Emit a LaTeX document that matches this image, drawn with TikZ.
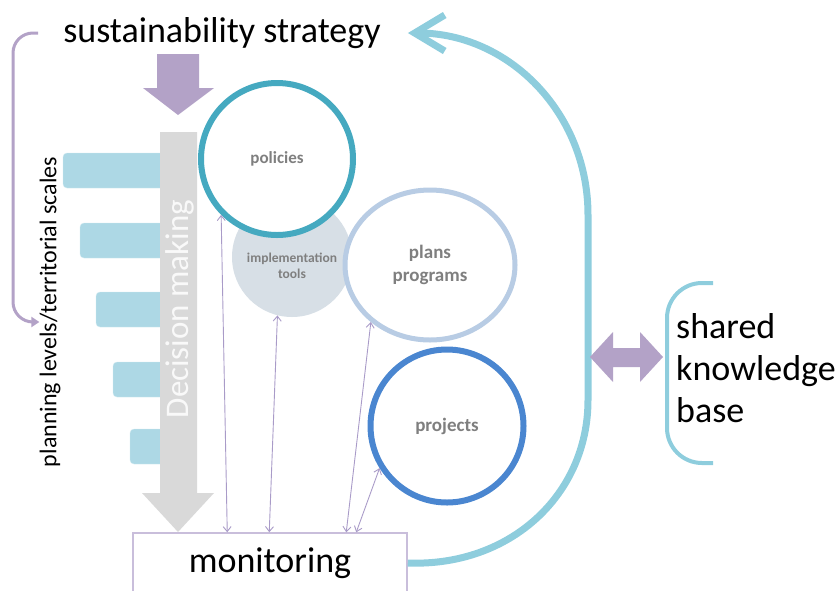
\documentclass[tikz,border=0pt]{standalone}
\usepackage{fontspec}
\setmainfont{Carlito}
\usetikzlibrary{arrows.meta,shapes.geometric}
\definecolor{aqua}{HTML}{45A9C0}
\definecolor{lightaqua}{HTML}{8ECDDD}
\definecolor{baraqua}{HTML}{ADD8E5}
\definecolor{planblue}{HTML}{B8CCE4}
\definecolor{projblue}{HTML}{4A86D0}
\definecolor{toolgray}{HTML}{D7DFE6}
\definecolor{lilac}{HTML}{B3A2C7}
\definecolor{thinlilac}{HTML}{A99BC8}
\definecolor{boxlilac}{HTML}{C9BEDB}
\definecolor{arrowgray}{HTML}{D9D9D9}
\definecolor{labelgray}{HTML}{7F7F7F}
\begin{document}
\begin{tikzpicture}[x=1pt,y=-1pt,
    bigtext/.style={font=\fontsize{36}{42}\selectfont,inner sep=0pt},
    ring/.style={circle,draw,line width=6pt,fill=white,inner sep=0pt},
    intext/.style={text=labelgray,font=\bfseries\fontsize{17}{22}\selectfont,align=center},
    bar/.style={fill=baraqua,draw=baraqua!60!white,rounded corners=4pt},
    link/.style={thinlilac,line width=0.9pt,{Straight Barb[length=5pt,width=8pt]}-{Straight Barb[length=5pt,width=8pt]}}]
    \useasboundingbox (0,0) rectangle (840,590);
    % levels behind the decision arrow
    \foreach \x/\y in {63/153,80/223,96/292,113/362,130/429}
        \draw[bar] (\x,\y) rectangle (175,\y+35);
    \fill[arrowgray] (160,132) -- (197,132) -- (197,493) -- (214,493) -- (178,532) -- (142,493) -- (160,493) -- cycle;
    \node[rotate=90,text=white!95!gray,font=\fontsize{33}{36}\selectfont,inner sep=0pt] (dm) at (180,309) {Decision making};
    \fill[lilac] (157,54) -- (199,54) -- (199,88) -- (214,88) -- (178,115) -- (143,88) -- (157,88) -- cycle;
    \node[bigtext] (strat) at (222,33) {sustainability strategy};
    \node[rotate=90,font=\fontsize{24}{28}\selectfont,inner sep=0pt] (plan) at (50,312) {planning levels/territorial scales};
    \draw[lilac,line width=3pt,rounded corners=20pt,-{Triangle[length=8pt,width=10pt]}]
        ([xshift=-25pt]strat.west) -| (13,322) -- ([yshift=-10pt]plan.north);
    % circles
    \node[circle,fill=toolgray,minimum size=120pt,inner sep=0pt,
        label={[intext,font=\bfseries\fontsize{13.5}{16}\selectfont,yshift=-9pt]center:implementation\\tools}] (tools) at (292,257) {};
    \node[ring,draw=aqua,minimum size=152pt,intext] (pol) at (277,159) {policies};
    \node[ellipse,draw=planblue,line width=5pt,fill=white,inner sep=0pt,minimum width=170pt,minimum height=150pt,
        intext,font=\bfseries\fontsize{19}{23}\selectfont] (plans) at (430,265) {plans\\programs};
    \node[ring,draw=projblue,minimum size=153pt,intext,font=\bfseries\fontsize{19}{23}\selectfont] (proj) at (447,426) {projects};
    \node[bigtext,draw=boxlilac,line width=1.5pt,fill=white,minimum width=274pt,minimum height=60pt] (mon) at (270,563) {monitoring};
    % monitoring links
    \draw[link] ([xshift=95pt]mon.north west) -- (pol.225);
    \draw[link] ([xshift=137pt]mon.north west) -- (tools.256);
    \draw[link] ([xshift=214pt]mon.north west) -- (plans.224);
    \draw[link] ([xshift=224pt]mon.north west) -- (proj.212);
    % feedback loop
    \draw[lightaqua,line width=7pt,-{Straight Barb[length=30pt,width=36pt]}]
        (mon.east) .. controls (510,567) and (588,495) .. (588,400) -- (588,215)
        .. controls (588,112) and (508,33) .. ([xshift=27pt]strat.east);
    \fill[lilac] (590,357) -- (613,332) -- (613,348) -- (640,348) -- (640,332) -- (663,357)
        -- (640,382) -- (640,367) -- (613,367) -- (613,382) -- cycle;
    \draw[lightaqua,line width=4pt,rounded corners=35pt] (713,283) -| (667,463) -- (713,463);
    \node[bigtext,anchor=west,align=left] (kb) at (676,368) {shared\\knowledge\\base};
\end{tikzpicture}
\end{document}
